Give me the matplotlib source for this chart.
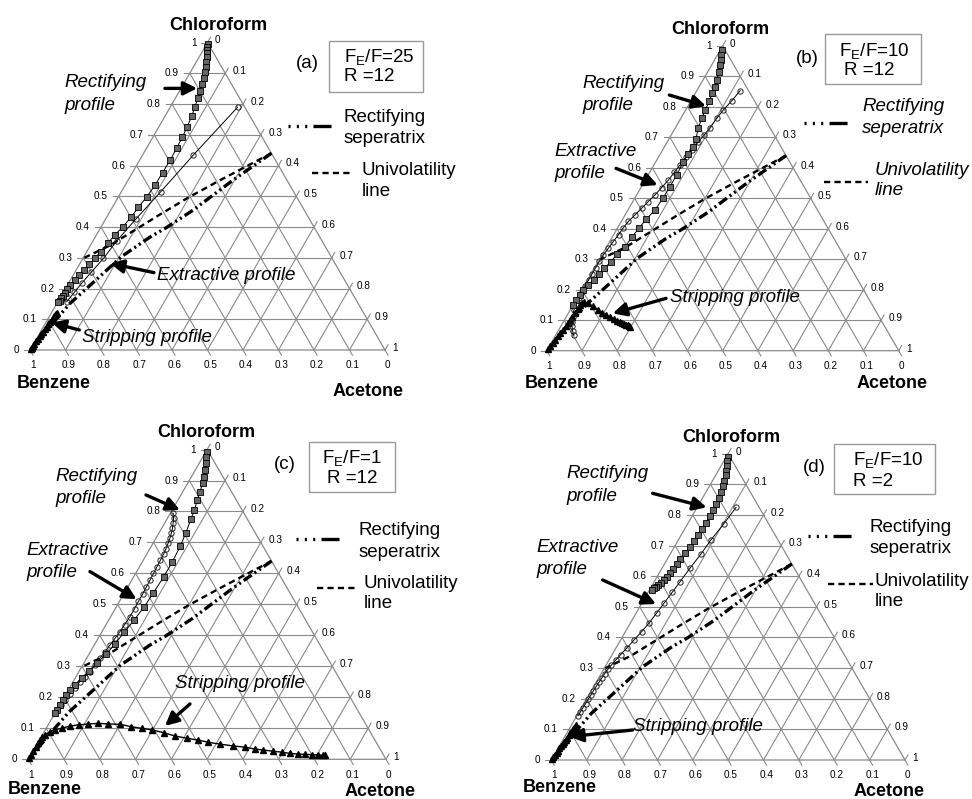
import numpy as np
import matplotlib
matplotlib.use('Agg')
import matplotlib.pyplot as plt
from matplotlib.patches import Rectangle

plt.rcParams['font.family'] = ['Liberation Sans', 'DejaVu Sans']
plt.rcParams['mathtext.fontset'] = 'custom'
plt.rcParams['mathtext.rm'] = 'Liberation Sans'
plt.rcParams['lines.scale_dashes'] = False

# ---------------- data (mole fractions: chloroform C, acetone A) ----------------
tick_values = [0, 0.1, 0.2, 0.3, 0.4, 0.5, 0.6, 0.7, 0.8, 0.9, 1.0]
tick_labels = ['0', '0.1', '0.2', '0.3', '0.4', '0.5', '0.6', '0.7', '0.8', '0.9', '1']

sep_C = [0.640, 0.553, 0.455, 0.398, 0.368, 0.304, 0.228, 0.152, 0.076, 0.0]
sep_A = [0.360, 0.296, 0.232, 0.185, 0.155, 0.106, 0.072, 0.037, 0.018, 0.0]

uni_C = [0.640, 0.553, 0.495, 0.440, 0.390, 0.340, 0.300]
uni_A = [0.360, 0.260, 0.197, 0.145, 0.100, 0.055, 0.003]

# panel (a)
rect_a_C = [0.995, 0.985, 0.975, 0.965, 0.952, 0.938, 0.922, 0.905, 0.886, 0.865, 0.843, 0.819, 0.789,
            0.761, 0.726, 0.692, 0.656, 0.618, 0.577, 0.537, 0.499, 0.464, 0.432, 0.401, 0.374, 0.347,
            0.320, 0.298, 0.279, 0.260, 0.244, 0.228, 0.211, 0.197, 0.186, 0.176, 0.168, 0.161, 0.155]
rect_a_A = [0.003, 0.007, 0.011, 0.016, 0.022, 0.028, 0.034, 0.040, 0.046, 0.051, 0.056, 0.063, 0.070,
            0.075, 0.080, 0.083, 0.085, 0.086, 0.085, 0.084, 0.080, 0.073, 0.069, 0.061, 0.052, 0.045,
            0.039, 0.034, 0.028, 0.022, 0.017, 0.012, 0.008, 0.006, 0.005, 0.004, 0.003, 0.003, 0.002]
extr_a_C = [0.790, 0.634, 0.515, 0.425, 0.355, 0.298, 0.253, 0.217, 0.188, 0.157]
extr_a_A = [0.190, 0.143, 0.111, 0.085, 0.067, 0.058, 0.046, 0.037, 0.031, 0.025]
strip_a_C = [0.003, 0.008, 0.014, 0.021, 0.028, 0.036, 0.044, 0.052, 0.060, 0.068, 0.076, 0.084, 0.091,
             0.098, 0.104, 0.109, 0.113, 0.116, 0.118, 0.119]
strip_a_A = [0.000, 0.001, 0.001, 0.002, 0.003, 0.004, 0.005, 0.006, 0.007, 0.008, 0.009, 0.010, 0.011,
             0.012, 0.013, 0.014, 0.0145, 0.015, 0.0153, 0.0155]

# panel (b)
rect_b_C = [0.986, 0.970, 0.954, 0.937, 0.915, 0.888, 0.864, 0.844, 0.819, 0.790, 0.762, 0.729, 0.693,
            0.669, 0.645, 0.620, 0.578, 0.538, 0.500, 0.462, 0.431, 0.401, 0.374, 0.341, 0.317, 0.292,
            0.270, 0.251, 0.232, 0.215, 0.199, 0.183, 0.166, 0.150]
rect_b_A = [0.004, 0.010, 0.017, 0.023, 0.031, 0.040, 0.046, 0.049, 0.052, 0.056, 0.059, 0.066, 0.077,
            0.080, 0.080, 0.078, 0.081, 0.081, 0.080, 0.077, 0.067, 0.061, 0.056, 0.052, 0.042, 0.036,
            0.029, 0.022, 0.017, 0.010, 0.005, 0.002, 0.001, 0.001]
extr_b_C = [0.853, 0.820, 0.790, 0.762, 0.732, 0.708, 0.686, 0.658, 0.634, 0.609, 0.585, 0.560, 0.535,
            0.511, 0.489, 0.467, 0.445, 0.424, 0.402, 0.380, 0.358, 0.336, 0.314, 0.293, 0.272, 0.252,
            0.232, 0.212, 0.192, 0.172, 0.152, 0.132, 0.112, 0.095, 0.080, 0.065, 0.050]
extr_b_A = [0.123, 0.116, 0.107, 0.102, 0.098, 0.094, 0.088, 0.083, 0.078, 0.074, 0.070, 0.066, 0.059,
            0.052, 0.044, 0.036, 0.028, 0.020, 0.016, 0.014, 0.010, 0.007, 0.004, 0.003, 0.003, 0.003,
            0.003, 0.003, 0.004, 0.005, 0.007, 0.011, 0.018, 0.025, 0.032, 0.041, 0.052]
strip_b_C = [0.005, 0.015, 0.025, 0.036, 0.047, 0.058, 0.069, 0.080, 0.090, 0.100, 0.112, 0.125, 0.138,
             0.150, 0.158, 0.161, 0.155, 0.145, 0.135, 0.125, 0.117, 0.110, 0.104, 0.099, 0.095, 0.091,
             0.088, 0.085, 0.083, 0.081, 0.080, 0.079]
strip_b_A = [0.001, 0.002, 0.004, 0.006, 0.008, 0.010, 0.012, 0.014, 0.015, 0.016, 0.017, 0.018, 0.019,
             0.020, 0.022, 0.026, 0.040, 0.060, 0.077, 0.094, 0.110, 0.125, 0.138, 0.150, 0.160, 0.169,
             0.177, 0.184, 0.189, 0.193, 0.195, 0.197]

# panel (c)
rect_c_C = [0.993, 0.975, 0.955, 0.934, 0.912, 0.891, 0.864, 0.837, 0.805, 0.775, 0.730, 0.687, 0.637,
            0.588, 0.538, 0.493, 0.450, 0.410, 0.372, 0.339, 0.310, 0.286, 0.261, 0.240, 0.224, 0.208,
            0.192, 0.175, 0.160, 0.148]
rect_c_A = [0.004, 0.010, 0.018, 0.027, 0.035, 0.042, 0.048, 0.054, 0.062, 0.067, 0.075, 0.081, 0.084,
            0.084, 0.081, 0.078, 0.071, 0.063, 0.056, 0.048, 0.036, 0.027, 0.019, 0.011, 0.005, 0.002,
            0.001, 0.001, 0.001, 0.001]
extr_c_C = [0.794, 0.778, 0.762, 0.746, 0.730, 0.714, 0.698, 0.680, 0.662, 0.643, 0.622, 0.600, 0.578,
            0.556, 0.533, 0.510, 0.486, 0.460, 0.435, 0.412, 0.390, 0.369, 0.347, 0.326, 0.305, 0.283,
            0.266, 0.251, 0.230, 0.211, 0.193, 0.175]
extr_c_A = [0.008, 0.017, 0.024, 0.030, 0.035, 0.039, 0.042, 0.045, 0.047, 0.048, 0.049, 0.050, 0.051,
            0.052, 0.053, 0.053, 0.054, 0.054, 0.052, 0.050, 0.047, 0.044, 0.041, 0.037, 0.034, 0.031,
            0.025, 0.019, 0.015, 0.011, 0.006, 0.003]
strip_c_C = [0.005, 0.015, 0.026, 0.041, 0.052, 0.062, 0.071, 0.079, 0.089, 0.095, 0.100, 0.1075, 0.111,
             0.114, 0.116, 0.114, 0.113, 0.105, 0.100, 0.095, 0.086, 0.075, 0.068, 0.062, 0.055, 0.049,
             0.043, 0.039, 0.033, 0.030, 0.026, 0.023, 0.019, 0.017, 0.016, 0.015, 0.014, 0.013, 0.013]
strip_c_A = [0.000, 0.000, 0.000, 0.001, 0.001, 0.002, 0.004, 0.007, 0.016, 0.027, 0.043, 0.063, 0.085,
             0.111, 0.138, 0.167, 0.200, 0.236, 0.267, 0.298, 0.335, 0.373, 0.409, 0.444, 0.476, 0.511,
             0.552, 0.587, 0.617, 0.642, 0.672, 0.697, 0.722, 0.746, 0.765, 0.785, 0.804, 0.816, 0.823]

# panel (d)
rect_d_C = [0.988, 0.975, 0.960, 0.945, 0.930, 0.912, 0.895, 0.875, 0.855, 0.835, 0.815, 0.795, 0.775,
            0.755, 0.735, 0.715, 0.695, 0.675, 0.657, 0.640, 0.625, 0.610, 0.598, 0.588, 0.579, 0.571,
            0.565, 0.560, 0.556]
rect_d_A = [0.006, 0.010, 0.016, 0.022, 0.028, 0.033, 0.039, 0.043, 0.047, 0.049, 0.050, 0.050, 0.050,
            0.049, 0.048, 0.047, 0.044, 0.040, 0.036, 0.034, 0.032, 0.030, 0.027, 0.024, 0.020, 0.016,
            0.013, 0.010, 0.008]
extr_d_C = [0.825, 0.770, 0.718, 0.673, 0.626, 0.582, 0.547, 0.514, 0.480, 0.448, 0.419, 0.392, 0.366,
            0.344, 0.326, 0.310, 0.296, 0.282, 0.268, 0.254, 0.240, 0.226, 0.212, 0.198, 0.184, 0.170,
            0.157, 0.145]
extr_d_A = [0.110, 0.102, 0.092, 0.087, 0.079, 0.073, 0.068, 0.063, 0.058, 0.053, 0.046, 0.038, 0.031,
            0.024, 0.019, 0.015, 0.012, 0.010, 0.009, 0.008, 0.007, 0.006, 0.006, 0.005, 0.005, 0.004,
            0.004, 0.003]
strip_d_C = [0.004, 0.010, 0.017, 0.024, 0.031, 0.038, 0.045, 0.052, 0.059, 0.066, 0.073, 0.080, 0.087,
             0.094, 0.100, 0.105, 0.109, 0.112, 0.114]
strip_d_A = [0.001, 0.001, 0.002, 0.003, 0.004, 0.004, 0.005, 0.006, 0.007, 0.008, 0.008, 0.009, 0.010,
             0.011, 0.011, 0.012, 0.012, 0.013, 0.013]

panel_letters = ['(a)', '(b)', '(c)', '(d)']
fe_ratios = ['25', '10', '1', '10']
refluxes = ['12', '12', '12', '2']

# ---------------- helpers ----------------
S3 = np.sqrt(3) / 2
GRID = '#8a8a8a'


def tern(C, A):
    C = np.asarray(C, dtype=float)
    A = np.asarray(A, dtype=float)
    return A + C / 2, C * S3


SEP_DASH = (0, (7, 2.5, 1.5, 2.5, 1.5, 2.5))
UNI_DASH = (0, (4.5, 3))

layouts = [
    dict(B=(30, 350), L=355,
         chl=(0.531, 0.914), benz=(0.068, -0.094), acet=(0.951, -0.118), letter=(0.782, 0.807),
         box=(0.843, 0.727, 1.106, 0.871), t1=(0.885, 0.824, 'left'), t2=(0.885, 0.770, 'left'),
         rl=(0.097, [0.753, 0.690]), ra=((0.380, 0.737), (0.471, 0.737)),
         sl=(0.883, [0.655, 0.596]), ss=(0.727, 0.854, 0.631),
         ul=(0.934, [0.507, 0.446]), us=(0.794, 0.910, 0.498), leg_it=False,
         el=(0.357, [0.2085], ['Extractive profile']), ea=((0.349, 0.218), (0.2254, 0.244)),
         stl=(0.1456, 0.0357), sta=((0.139, 0.0563), (0.061, 0.077))),
    dict(B=(546.7, 350.7), L=352,
         chl=(0.4934, 0.9129), benz=(0.0426, -0.0928), acet=(0.980, -0.0928), letter=(0.7415, 0.8305),
         box=(0.7917, 0.7576, 1.0634, 0.8987), t1=(0.8295, 0.8494, 'left'), t2=(0.8456, 0.7955, 'left'),
         rl=(0.1023, [0.7595, 0.6979]), ra=((0.3485, 0.7263), (0.4527, 0.6951)),
         sl=(0.8958, [0.6932, 0.6316]), ss=(0.732, 0.860, 0.6477),
         ul=(0.9309, [0.5133, 0.4545]), us=(0.7888, 0.912, 0.480), leg_it=True,
         el=(0.0218, [0.5653, 0.5038], ['Extractive', 'profile']), ea=((0.197, 0.518), (0.3153, 0.4706)),
         stl=(0.3504, 0.1506), sta=((0.339, 0.1487), (0.1875, 0.106))),
    dict(B=(28.3, 759.3), L=357.7,
         chl=(0.4986, 0.9143), benz=(0.0466, -0.0857), acet=(0.9832, -0.0904), letter=(0.7176, 0.8229),
         box=(0.7857, 0.7484, 1.0252, 0.8863), t1=(0.9059, 0.8397, 'center'), t2=(0.9059, 0.7856, 'center'),
         rl=(0.0746, [0.7903, 0.7297]), ra=((0.329, 0.739), (0.424, 0.697)),
         sl=(0.9226, [0.6384, 0.5778]), ss=(0.7484, 0.876, 0.6151),
         ul=(0.9366, [0.4921, 0.4343]), us=(0.806, 0.9226, 0.4781), leg_it=False,
         el=(-0.0065, [0.5834, 0.5219], ['Extractive', 'profile']), ea=((0.1724, 0.5247), (0.3029, 0.4473)),
         stl=(0.41, 0.2125), sta=((0.452, 0.1547), (0.3821, 0.0932))),
    dict(B=(551.3, 760), L=353.7,
         chl=(0.51, 0.9123), benz=(0.0227, -0.0782), acet=(0.9557, -0.0895), letter=(0.7437, 0.8274),
         box=(0.7983, 0.7511, 1.0858, 0.8925), t1=(0.852, 0.8454, 'left'), t2=(0.852, 0.7888, 'left'),
         rl=(0.0416, [0.8086, 0.7445]), ra=((0.2865, 0.754), (0.4393, 0.7144)),
         sl=(0.901, [0.6569, 0.5966]), ss=(0.7249, 0.8569, 0.6333),
         ul=(0.9133, [0.5042, 0.4477]), us=(0.7813, 0.9086, 0.4967), leg_it=False,
         el=(-0.0414, [0.6013, 0.5372], ['Extractive', 'profile']), ea=((0.1453, 0.5089), (0.2961, 0.441)),
         stl=(0.2319, 0.0961), sta=((0.23, 0.0848), (0.051, 0.066))),
]

profiles = [
    (rect_a_C, rect_a_A, extr_a_C, extr_a_A, strip_a_C, strip_a_A),
    (rect_b_C, rect_b_A, extr_b_C, extr_b_A, strip_b_C, strip_b_A),
    (rect_c_C, rect_c_A, extr_c_C, extr_c_A, strip_c_C, strip_c_A),
    (rect_d_C, rect_d_A, extr_d_C, extr_d_A, strip_d_C, strip_d_A),
]

W, H = 972, 799
fig = plt.figure(figsize=(W / 100, H / 100), dpi=100)
fig.patch.set_facecolor('white')

X0, X1, Y0, Y1 = -0.09, 1.16, -0.14, 0.95

FS_BIG = 13.5
FS_TICK = 7.2


def arrow(ax, tail, head):
    ax.annotate('', xy=head, xytext=tail,
                arrowprops=dict(arrowstyle='-|>', lw=2.4, color='black', mutation_scale=20,
                                shrinkA=0, shrinkB=0))


for idx, lay in enumerate(layouts):
    Bx, By = lay['B']
    L = lay['L']
    left = Bx + X0 * L
    bottom = (H - By) + Y0 * L
    ax = fig.add_axes([left / W, bottom / H, (X1 - X0) * L / W, (Y1 - Y0) * L / H])
    ax.set_xlim(X0, X1)
    ax.set_ylim(Y0, Y1)
    ax.axis('off')

    # grid lines
    for k in range(1, 10):
        v = k / 10
        for Cs, As in (([v, v], [0, 1 - v]), ([0, 1 - v], [v, v]), ([0, 1 - v], [1 - v, 0])):
            x, y = tern(Cs, As)
            ax.plot(x, y, color=GRID, lw=0.8, zorder=1)
    x, y = tern([0, 1, 0, 0], [0, 0, 1, 0])
    ax.plot(x, y, color=GRID, lw=0.9, zorder=1)

    # ticks and tick labels
    tl = 0.017
    for v, lab in zip(tick_values, tick_labels):
        x0, y0 = tern(v, 0)
        ax.plot([x0 - tl, x0], [y0, y0], color=GRID, lw=0.8, zorder=1)
        ax.text(x0 - 0.031, y0, lab, ha='right', va='center', fontsize=FS_TICK)
        x0, y0 = tern(0, 1 - v)
        ax.plot([x0, x0 + 0.5 * tl], [y0, y0 - S3 * tl], color=GRID, lw=0.8, zorder=1)
        ax.text(x0 + 0.008, y0 - 0.043, lab, ha='center', va='center', fontsize=FS_TICK)
        x0, y0 = tern(1 - v, v)
        ax.plot([x0, x0 + 0.5 * tl], [y0, y0 + S3 * tl], color=GRID, lw=0.8, zorder=1)
        ax.text(x0 + 0.021, y0 + 0.006, lab, ha='left', va='center', fontsize=FS_TICK)

    # univolatility line and separatrix
    x, y = tern(uni_C, uni_A)
    ax.plot(x, y, color='black', lw=1.7, linestyle=UNI_DASH, zorder=3)
    x, y = tern(sep_C, sep_A)
    ax.plot(x, y, color='black', lw=2.4, linestyle=SEP_DASH, zorder=3)

    rC, rA, eC, eA, sC, sA = profiles[idx]
    x, y = tern(sC, sA)
    ax.plot(x, y, color='black', lw=1.0, marker='^', ms=4.2, mfc='black', mec='black', zorder=4)
    x, y = tern(eC, eA)
    ax.plot(x, y, color='black', lw=0.7, marker='o', ms=3.8, mfc='none', mec='#222222', mew=0.7, zorder=5)
    x, y = tern(rC, rA)
    ax.plot(x, y, color='black', lw=0.7, marker='s', ms=4.5, mfc='#656565', mec='black', mew=0.6, zorder=6)

    # component names
    ax.text(*lay['chl'], 'Chloroform', ha='center', va='center', fontsize=13, fontweight='bold')
    ax.text(*lay['benz'], 'Benzene', ha='center', va='center', fontsize=13, fontweight='bold')
    ax.text(*lay['acet'], 'Acetone', ha='center', va='center', fontsize=13, fontweight='bold')

    # panel letter and parameter box
    ax.text(*lay['letter'], panel_letters[idx], ha='center', va='center', fontsize=FS_BIG)
    bx0, by0, bx1, by1 = lay['box']
    ax.add_patch(Rectangle((bx0, by0), bx1 - bx0, by1 - by0, fill=True, facecolor='white',
                           edgecolor='#9a9a9a', lw=1.0, clip_on=False, zorder=2))
    tx, ty, tha = lay['t1']
    ax.text(tx, ty, 'F$_{\\rm E}$/F=' + fe_ratios[idx], ha=tha, va='center', fontsize=FS_BIG, zorder=7)
    tx, ty, tha = lay['t2']
    ax.text(tx, ty, 'R =' + refluxes[idx], ha=tha, va='center', fontsize=FS_BIG, zorder=7)

    # profile labels and arrows
    rx, rys = lay['rl']
    for t, yy in zip(['Rectifying', 'profile'], rys):
        ax.text(rx, yy, t, ha='left', va='center', fontsize=FS_BIG, style='italic')
    arrow(ax, *lay['ra'])

    ex, eys, etxt = lay['el']
    for t, yy in zip(etxt, eys):
        ax.text(ex, yy, t, ha='left', va='center', fontsize=FS_BIG, style='italic', zorder=7)
    arrow(ax, *lay['ea'])

    ax.text(*lay['stl'], 'Stripping profile', ha='left', va='center', fontsize=FS_BIG, style='italic', zorder=7)
    arrow(ax, *lay['sta'])

    # legend-like annotations
    st = 'italic' if lay['leg_it'] else 'normal'
    lx, lys = lay['sl']
    for t, yy in zip(['Rectifying', 'seperatrix'], lys):
        ax.text(lx, yy, t, ha='left', va='center', fontsize=FS_BIG, style=st)
    sx0, sx1, sy = lay['ss']
    ax.plot([sx0, sx1], [sy, sy], color='black', lw=2.4,
            linestyle=(0, (1.5, 4.5, 1.5, 4.5, 1.5, 4.5, 13, 60)), clip_on=False)
    ux, uys = lay['ul']
    for t, yy in zip(['Univolatility', 'line'], uys):
        ax.text(ux, yy, t, ha='left', va='center', fontsize=FS_BIG, style=st)
    ux0, ux1, uy = lay['us']
    ax.plot([ux0, ux1], [uy, uy], color='black', lw=1.7, linestyle=UNI_DASH, clip_on=False)

fig.savefig('out.png', dpi=100, facecolor='white')
